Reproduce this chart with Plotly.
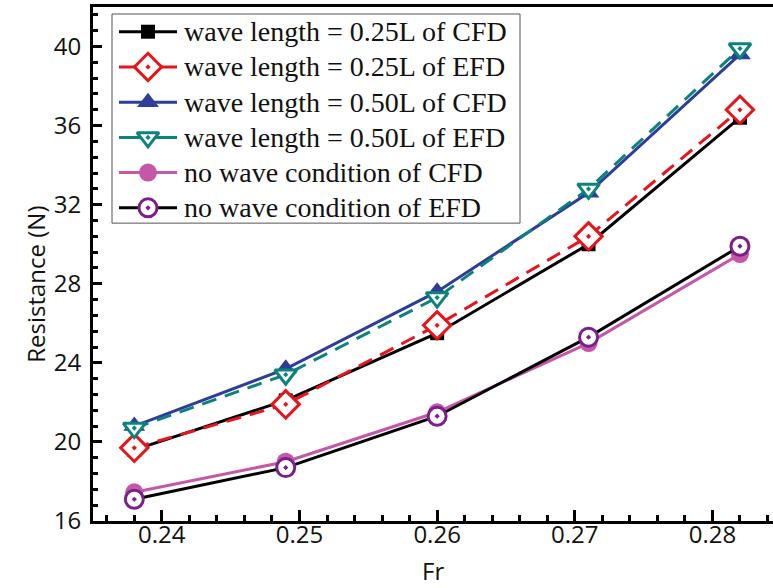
import plotly.graph_objects as go

# Froude numbers of the towing runs
fr = [0.238, 0.249, 0.260, 0.271, 0.282]

# Total resistance (N)
cfd_025 = [19.6, 22.1, 25.5, 30.0, 36.4]
efd_025 = [19.7, 21.9, 25.9, 30.4, 36.8]
cfd_050 = [20.8, 23.7, 27.6, 32.6, 39.6]
efd_050 = [20.7, 23.4, 27.3, 32.8, 39.9]
cfd_calm = [17.45, 19.0, 21.5, 25.0, 29.5]
efd_calm = [17.1, 18.7, 21.3, 25.3, 29.9]

names = [
    "wave length = 0.25L of CFD",
    "wave length = 0.25L of EFD",
    "wave length = 0.50L of CFD",
    "wave length = 0.50L of EFD",
    "no wave condition of CFD",
    "no wave condition of EFD",
]

styles = [
    dict(y=cfd_025, line=dict(color="#000000", width=3),
         marker=dict(symbol="square", size=14, color="#000000")),
    dict(y=efd_025, line=dict(color="#e8141c", width=3, dash="15px,9px"),
         marker=dict(symbol="diamond-dot", size=21, color="white",
                     line=dict(color="#e8141c", width=3))),
    dict(y=cfd_050, line=dict(color="#2d3d98", width=3),
         marker=dict(symbol="triangle-up", size=19, color="#2d3d98")),
    dict(y=efd_050, line=dict(color="#0b837c", width=3, dash="15px,9px"),
         marker=dict(symbol="triangle-down-dot", size=19, color="white",
                     line=dict(color="#0b837c", width=3))),
    dict(y=cfd_calm, line=dict(color="#c457a8", width=3),
         marker=dict(symbol="circle", size=18, color="#c457a8")),
    dict(y=efd_calm, line=dict(color="#000000", width=3),
         marker=dict(symbol="circle-dot", size=18, color="white",
                     line=dict(color="#7a1f8c", width=3))),
]

fig = go.Figure()
for name, st in zip(names, styles):
    fig.add_trace(go.Scatter(x=fr, y=st["y"], name=name, mode="lines+markers",
                             line=st["line"], marker=st["marker"],
                             showlegend=False))

# Legend drawn on a pixel-scaled overlay axis (origin = plot area top-left)
PLOT_W, PLOT_H = 680, 513.7
LEG_BOX = (19, 7, 427, 216)        # left, top, right, bottom
LEG_ROW0, LEG_DY = 24.7, 35.2      # first row centre, row pitch
LEG_LINE = (26, 84)                # key line span
LEG_TEXT_X = 89

fig.add_shape(type="rect", xref="x2", yref="y2",
              x0=LEG_BOX[0], y0=LEG_BOX[1], x1=LEG_BOX[2], y1=LEG_BOX[3],
              line=dict(color="#555555", width=1), fillcolor="white",
              layer="below")

annotations = []
for i, (name, st) in enumerate(zip(names, styles)):
    yc = LEG_ROW0 + i * LEG_DY
    key_line = dict(st["line"])
    key_line.pop("dash", None)
    fig.add_trace(go.Scatter(x=list(LEG_LINE), y=[yc, yc], mode="lines",
                             line=key_line, xaxis="x2", yaxis="y2",
                             showlegend=False, hoverinfo="skip"))
    fig.add_trace(go.Scatter(x=[(LEG_LINE[0] + LEG_LINE[1]) / 2], y=[yc],
                             mode="markers", marker=st["marker"],
                             xaxis="x2", yaxis="y2", showlegend=False,
                             hoverinfo="skip"))
    annotations.append(dict(
        text=name, xref="x2", yref="y2", x=LEG_TEXT_X, y=yc,
        xanchor="left", yanchor="middle", showarrow=False,
        font=dict(family="Liberation Serif", size=28, color="#111111"),
    ))

tick_font = dict(family="Open Sans", size=24, color="#111111")

annotations += [
    dict(text="Resistance (N)", textangle=-90, xref="paper", yref="paper",
         x=-0.085, y=0.46, xanchor="center", yanchor="middle",
         showarrow=False, font=tick_font),
    dict(text="Fr", xref="paper", yref="paper", x=0.5, y=-0.097,
         xanchor="center", yanchor="middle", showarrow=False, font=tick_font),
]

fig.update_layout(
    width=773, height=588,
    margin=dict(l=93, r=0, t=7, b=67),
    paper_bgcolor="white", plot_bgcolor="white",
    showlegend=False,
    xaxis=dict(
        range=[0.235, 0.2844], tickvals=[0.24, 0.25, 0.26, 0.27, 0.28],
        ticktext=["0.24", "0.25", "0.26", "0.27", "0.28"],
        ticks="inside", ticklen=11, tickwidth=2.5, tickcolor="black",
        minor=dict(ticks="inside", dtick=0.002, tick0=0.24, ticklen=6,
                   tickwidth=2.5, tickcolor="black"),
        showline=True, linecolor="black", linewidth=3, mirror=True,
        showgrid=False, zeroline=False, tickfont=tick_font,
        ticklabelstandoff=-10,
    ),
    yaxis=dict(
        range=[16, 42], tickvals=[16, 20, 24, 28, 32, 36, 40],
        ticks="inside", ticklen=9, tickwidth=2.5, tickcolor="black",
        minor=dict(ticks="inside", dtick=0.8, tick0=16, ticklen=5,
                   tickwidth=2.5, tickcolor="black"),
        showline=True, linecolor="black", linewidth=3, mirror=False,
        showgrid=False, zeroline=False, tickfont=tick_font,
        ticklabelstandoff=4,
    ),
    xaxis2=dict(overlaying="x", range=[0, PLOT_W], visible=False,
                fixedrange=True),
    yaxis2=dict(overlaying="y", range=[PLOT_H, 0], visible=False,
                fixedrange=True),
    annotations=annotations,
)

fig.write_html("out.html")
